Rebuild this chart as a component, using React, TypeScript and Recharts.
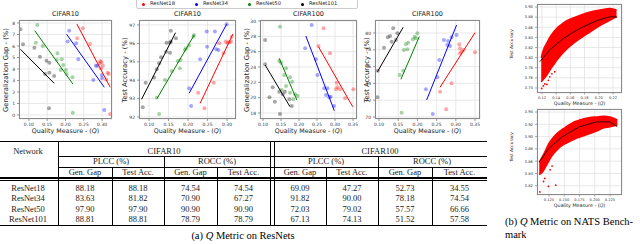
import React from 'react';
import { ScatterChart, Scatter, XAxis, YAxis, CartesianGrid, ComposedChart, Area } from 'recharts';

type Pt = [number, number];

const SERIES = ['ResNet18', 'ResNet34', 'ResNet50', 'ResNet101'];
const COLORS = ['#ff0000', '#0000ff', '#008000', '#000000'];

// CIFAR10 - generalization gap
const c10GapR18: Pt[] = [[0.247, 7.54], [0.232, 6.67], [0.267, 6.17], [0.295, 4.7], [0.298, 4.58], [0.293, 4.49], [0.302, 4.29], [0.297, 4.06], [0.315, 3.68], [0.318, 3.57], [0.311, 3.09], [0.322, 0.09]];
const c10GapR34: Pt[] = [[0.21, 7.33], [0.206, 6.38], [0.229, 6.23], [0.235, 4.84], [0.283, 4.29], [0.287, 4.29], [0.276, 3.04], [0.299, 3.48], [0.3, 3.19], [0.306, 0.43]];
const c10GapR50: Pt[] = [[0.123, 7.83], [0.119, 6.29], [0.138, 6.0], [0.178, 5.36], [0.19, 4.84], [0.176, 4.78], [0.194, 4.35], [0.187, 3.91], [0.201, 3.91], [0.203, 3.57], [0.219, 3.28], [0.22, 0.2]];
const c10GapR101: Pt[] = [[0.077, 7.45], [0.084, 6.15], [0.115, 5.85], [0.13, 5.07], [0.148, 4.72], [0.156, 4.55], [0.156, 3.68], [0.144, 3.57], [0.169, 3.39], [0.155, 0.58]];
const c10GapFits: Pt[][] = [
  [[0.231, 7.91], [0.322, 2.41]],
  [[0.203, 7.02], [0.306, 2.41]],
  [[0.116, 7.33], [0.22, 2.7]],
  [[0.077, 5.71], [0.169, 2.76]],
];

// CIFAR10 - test accuracy
const c10AccR18: Pt[] = [[0.226, 93.32], [0.242, 92.48], [0.266, 93.86], [0.28, 96.01], [0.291, 95.46], [0.297, 96.1], [0.301, 96.02], [0.306, 96.06], [0.312, 96.36], [0.31, 96.1]];
const c10AccR34: Pt[] = [[0.203, 93.56], [0.208, 92.6], [0.231, 95.14], [0.248, 96.64], [0.249, 95.82], [0.269, 96.64], [0.272, 95.68], [0.278, 95.64], [0.299, 97.04]];
const c10AccR50: Pt[] = [[0.126, 92.16], [0.12, 93.05], [0.141, 94.01], [0.158, 94.5], [0.174, 95.04], [0.181, 95.1], [0.179, 94.65], [0.192, 95.64], [0.195, 95.73], [0.203, 95.88], [0.214, 96.36], [0.215, 96.46]];
const c10AccR101: Pt[] = [[0.084, 92.53], [0.0915, 93.86], [0.113, 94.14], [0.12, 94.59], [0.126, 94.92], [0.131, 95.24], [0.144, 95.55], [0.145, 96.04], [0.154, 96.04], [0.156, 96.1], [0.154, 95.49], [0.169, 96.28], [0.156, 96.69]];
const c10AccFits: Pt[][] = [
  [[0.231, 92.74], [0.315, 96.51]],
  [[0.203, 93.29], [0.299, 97.04]],
  [[0.121, 93.02], [0.216, 96.46]],
  [[0.081, 92.96], [0.168, 96.58]],
];

// CIFAR100 - generalization gap
const c100GapR18: Pt[] = [[0.268, 29.04], [0.254, 26.74], [0.286, 25.78], [0.305, 21.95], [0.307, 21.35], [0.303, 21.09], [0.314, 21.09], [0.328, 19.92], [0.351, 21.09]];
const c100GapR34: Pt[] = [[0.235, 29.47], [0.217, 26.43], [0.247, 25.0], [0.251, 22.95], [0.27, 21.22], [0.279, 21.22], [0.275, 20.35], [0.284, 20.05], [0.288, 20.13], [0.297, 18.91]];
const c100GapR50: Pt[] = [[0.147, 29.25], [0.145, 24.78], [0.15, 24.56], [0.164, 23.83], [0.159, 22.95], [0.175, 22.65], [0.164, 21.52], [0.152, 21.0], [0.181, 22.08], [0.175, 20.65], [0.189, 20.44], [0.196, 20.22], [0.184, 19.79]];
const c100GapR101: Pt[] = [[0.106, 27.52], [0.106, 24.35], [0.127, 21.35], [0.118, 20.05], [0.133, 19.47], [0.145, 20.78], [0.155, 20.44], [0.161, 20.78], [0.173, 19.79], [0.18, 18.91], [0.147, 17.87]];
const c100GapFits: Pt[][] = [
  [[0.254, 26.64], [0.349, 18.82]],
  [[0.219, 28.04], [0.298, 18.3]],
  [[0.145, 25.13], [0.194, 19.69]],
  [[0.106, 24.26], [0.175, 18.82]],
];

// CIFAR100 - test accuracy
const c100AccR18: Pt[] = [[0.259, 73.01], [0.275, 70.92], [0.289, 74.01], [0.309, 78.65], [0.311, 78.18], [0.315, 77.77], [0.32, 77.98], [0.311, 77.58], [0.35, 77.7]];
const c100AccR34: Pt[] = [[0.222, 73.3], [0.24, 70.36], [0.252, 74.73], [0.257, 76.79], [0.269, 79.17], [0.28, 79.05], [0.278, 78.57], [0.285, 78.45], [0.289, 79.49], [0.302, 79.76]];
const c100AccR50: Pt[] = [[0.159, 70.51], [0.154, 75.0], [0.163, 75.51], [0.165, 77.98], [0.17, 78.65], [0.176, 78.85], [0.174, 78.06], [0.188, 79.25], [0.193, 79.56], [0.196, 79.37], [0.2, 79.96]];
const c100AccR101: Pt[] = [[0.096, 72.35], [0.097, 75.51], [0.113, 78.25], [0.123, 79.49], [0.129, 79.64], [0.133, 78.97], [0.144, 79.17], [0.137, 80.56], [0.148, 79.96]];
const c100AccFits: Pt[][] = [
  [[0.259, 73.54], [0.35, 80.04]],
  [[0.224, 72.02], [0.302, 80.95]],
  [[0.157, 74.49], [0.205, 79.57]],
  [[0.096, 75.39], [0.163, 80.69]],
];

// NATS bench - dense cloud envelope (low / high), fit curve, sparse points
const natsTopQ = [0.119, 0.122, 0.127, 0.131, 0.136, 0.141, 0.145, 0.155, 0.165, 0.174, 0.188, 0.202, 0.216, 0.225];
const natsTopLow = [0.752, 0.757, 0.766, 0.775, 0.785, 0.795, 0.802, 0.817, 0.829, 0.838, 0.851, 0.864, 0.874, 0.881];
const natsTopHigh = [0.8, 0.815, 0.829, 0.84, 0.85, 0.858, 0.863, 0.873, 0.879, 0.884, 0.89, 0.894, 0.897, 0.894];
const natsTopFit: Pt[] = [[0.117, 0.792], [0.131, 0.815], [0.15, 0.838], [0.1735, 0.858], [0.197, 0.873], [0.216, 0.881], [0.226, 0.88]];
const natsTopSparse: Pt[] = [[0.1196, 0.739], [0.124, 0.748], [0.122, 0.744], [0.129, 0.755], [0.131, 0.762], [0.134, 0.768], [0.127, 0.747], [0.138, 0.772]];

const natsBotQ = [0.109, 0.114, 0.12, 0.125, 0.13, 0.136, 0.147, 0.153, 0.169, 0.175, 0.192, 0.203, 0.214, 0.225, 0.237];
const natsBotLow = [0.838, 0.842, 0.852, 0.861, 0.869, 0.876, 0.886, 0.889, 0.897, 0.899, 0.905, 0.909, 0.914, 0.916, 0.919];
const natsBotHigh = [0.858, 0.867, 0.879, 0.889, 0.896, 0.903, 0.912, 0.916, 0.925, 0.927, 0.931, 0.932, 0.933, 0.932, 0.927];
const natsBotFit: Pt[] = [[0.109, 0.859], [0.125, 0.881], [0.147, 0.9], [0.175, 0.916], [0.203, 0.924], [0.225, 0.924], [0.237, 0.916]];
const natsBotSparse: Pt[] = [[0.11, 0.81], [0.124, 0.819], [0.116, 0.827], [0.118, 0.832], [0.127, 0.846], [0.13, 0.852], [0.136, 0.821]];

// table
const NETWORKS = ['ResNet18', 'ResNet34', 'ResNet50', 'ResNet101'];
const c10Plcc = [[88.18, 88.18], [83.63, 81.82], [97.9, 97.9], [88.81, 88.81]];
const c10Rocc = [[74.54, 74.54], [70.9, 67.27], [90.9, 90.9], [78.79, 78.79]];
const c100Plcc = [[69.09, 47.27], [91.82, 90.0], [72.03, 79.02], [67.13, 74.13]];
const c100Rocc = [[52.73, 34.55], [78.18, 74.54], [57.57, 66.66], [51.52, 57.58]];

const SANS = 'DejaVu Sans, sans-serif';
const SERIF = 'Liberation Serif, Times New Roman, serif';

const toXY = (pts: Pt[]) => pts.map(([x, y]) => ({ x, y }));
const noDot = () => <g />;
const dot = (r: number, color: string, op: number) => (props: any) =>
  <circle cx={props.cx} cy={props.cy} r={r} fill={color} fillOpacity={op} />;

const Txt = ({ x, y, size, family = SANS, anchor = 'middle', rotate, color = '#222', children }: any) => {
  const tx = anchor === 'middle' ? '-50%' : anchor === 'end' ? '-100%' : '0';
  return (
    <div style={{
      position: 'absolute', left: x, top: y, fontSize: size, fontFamily: family, color,
      whiteSpace: 'nowrap', lineHeight: 1,
      transform: `translate(${tx}, -50%)${rotate ? ` rotate(${rotate}deg)` : ''}`,
    }}>{children}</div>
  );
};

const QLabel = () => <>Quality Measure - (<i>Q</i>)</>;

const YW = 12;
const XH = 9;
const PAD = 6;

function Panel({ frame, xDomain, xTicks, yDomain, yTicks, sets, fits, title, yLabel, yLabelX }: any) {
  const [l, t, r, b] = frame;
  const w = r - l;
  const h = b - t;
  return (
    <>
      <div style={{ position: 'absolute', left: l - YW, top: t - PAD }}>
        <ScatterChart width={w + YW + PAD} height={h + XH + PAD} margin={{ top: PAD, right: PAD, left: 0, bottom: 0 }}>
          <CartesianGrid stroke="#e2e2e2" strokeWidth={0.8} />
          <XAxis type="number" dataKey="x" domain={xDomain} ticks={xTicks} allowDataOverflow interval={0}
            height={XH} tickSize={2} axisLine={false} tickLine={{ stroke: '#555', strokeWidth: 0.6 }}
            tick={{ fontSize: 4.5, fill: '#333', fontFamily: SANS }} tickFormatter={(v: number) => v.toFixed(2)} />
          <YAxis type="number" dataKey="y" domain={yDomain} ticks={yTicks} allowDataOverflow interval={0}
            width={YW} tickSize={2} axisLine={false} tickLine={{ stroke: '#555', strokeWidth: 0.6 }}
            tick={{ fontSize: 4.5, fill: '#333', fontFamily: SANS }} />
          {sets.map((pts: Pt[], i: number) => (
            <Scatter key={'p' + i} name={SERIES[i]} data={toXY(pts)} shape={dot(2, COLORS[i], 0.35)} isAnimationActive={false} />
          ))}
          {fits.map((pts: Pt[], i: number) => (
            <Scatter key={'f' + i} data={toXY(pts)} line={{ stroke: COLORS[i], strokeWidth: 1 }} shape={noDot} isAnimationActive={false} />
          ))}
        </ScatterChart>
      </div>
      <div style={{ position: 'absolute', left: l, top: t, width: w, height: h, border: '0.8px solid #8a8a8a', boxSizing: 'border-box' }} />
      <Txt x={(l + r) / 2} y={14} size={6.5}>{title}</Txt>
      <Txt x={(l + r) / 2} y={131} size={6.3}><QLabel /></Txt>
      <Txt x={yLabelX} y={(t + b) / 2} size={6.8} rotate={-90}>{yLabel}</Txt>
    </>
  );
}

function NatsPanel({ frame, xDomain, xTicks, xDigits, yDomain, yTicks, q, low, high, fit, sparse }: any) {
  const [l, t, r, b] = frame;
  const w = r - l;
  const h = b - t;
  const band = q.map((x: number, i: number) => ({ x, band: [low[i], high[i]] }));
  return (
    <>
      <div style={{ position: 'absolute', left: l - YW, top: t - PAD }}>
        <ComposedChart width={w + YW + PAD} height={h + XH + PAD} data={band} margin={{ top: PAD, right: PAD, left: 0, bottom: 0 }}>
          <CartesianGrid stroke="#e2e2e2" strokeWidth={0.8} />
          <XAxis type="number" dataKey="x" domain={xDomain} ticks={xTicks} allowDataOverflow interval={0}
            height={XH} tickSize={1.5} axisLine={false} tickLine={{ stroke: '#555', strokeWidth: 0.5 }}
            tick={{ fontSize: 3.6, fill: '#333', fontFamily: SANS }} tickFormatter={(v: number) => v.toFixed(xDigits)} />
          <YAxis type="number" dataKey="y" domain={yDomain} ticks={yTicks} allowDataOverflow interval={0}
            width={YW} tickSize={2} axisLine={false} tickLine={{ stroke: '#555', strokeWidth: 0.5 }}
            tick={{ fontSize: 3.8, fill: '#333', fontFamily: SANS }} tickFormatter={(v: number) => v.toFixed(2)} />
          <Area type="monotone" dataKey="band" stroke="#ff0000" strokeWidth={1.5} fill="#ff0000" fillOpacity={1} isAnimationActive={false} />
          <Scatter data={toXY(sparse)} shape={dot(0.9, '#ff0000', 1)} isAnimationActive={false} />
          <Scatter data={toXY(fit)} line={{ stroke: '#000', strokeWidth: 0.8 }} shape={noDot} isAnimationActive={false} />
        </ComposedChart>
      </div>
      <div style={{ position: 'absolute', left: l, top: t, width: w, height: h, border: '0.8px solid #8a8a8a', boxSizing: 'border-box' }} />
      <Txt x={(l + r) / 2} y={b + 10.5} size={4.8}><QLabel /></Txt>
      <Txt x={512} y={(t + b) / 2 - 5} size={4.3} rotate={-90}>Test Accuracy</Txt>
    </>
  );
}

// table column layout
const COLS = [58, 112, 164, 270, 274, 326, 378, 432, 487];
const colCenters = [85, 138, 190.5, 243.5, 300, 352, 405, 459.5];
const ROW_Y = [187.5, 198, 208.5, 219];
const TSIZE = 8.5;

const HLine = ({ x1, x2, y, th = 0.8 }: any) => (
  <div style={{ position: 'absolute', left: x1, top: y, width: x2 - x1, height: th, background: '#000' }} />
);
const VLine = ({ x, y1, y2 }: any) => (
  <div style={{ position: 'absolute', left: x, top: y1, width: 0.7, height: y2 - y1, background: '#000' }} />
);

function Table() {
  const rows = NETWORKS.map((n, i) => [...c10Plcc[i], ...c10Rocc[i], ...c100Plcc[i], ...c100Rocc[i]]);
  const top = 141;
  const bottom = 224.5;
  return (
    <>
      <HLine x1={0} x2={487} y={top} th={1.1} />
      <HLine x1={58} x2={487} y={156} />
      <HLine x1={58} x2={487} y={166.5} />
      <HLine x1={0} x2={487} y={177} th={2.2} />
      <HLine x1={0} x2={487} y={180.2} th={0.7} />
      <HLine x1={0} x2={487} y={bottom} th={1} />
      <VLine x={COLS[0]} y1={top} y2={bottom} />
      <VLine x={COLS[3]} y1={top} y2={bottom} />
      <VLine x={COLS[4]} y1={top} y2={bottom} />
      <VLine x={COLS[2]} y1={156} y2={bottom} />
      <VLine x={COLS[6]} y1={156} y2={bottom} />
      {[COLS[1], COLS[5], COLS[7]].concat([217]).map((x) => <VLine key={x} x={x} y1={166.5} y2={bottom} />)}
      <Txt x={28} y={150.5} size={TSIZE} family={SERIF}>Network</Txt>
      <Txt x={164} y={150.5} size={TSIZE} family={SERIF}>CIFAR10</Txt>
      <Txt x={380} y={150.5} size={TSIZE} family={SERIF}>CIFAR100</Txt>
      {[111, 217, 326, 432].map((x, i) => (
        <Txt key={x} x={x} y={161.3} size={TSIZE} family={SERIF}>{i % 2 === 0 ? 'PLCC (%)' : 'ROCC (%)'}</Txt>
      ))}
      {colCenters.map((x, i) => (
        <Txt key={x} x={x} y={171.8} size={TSIZE} family={SERIF}>{i % 2 === 0 ? 'Gen. Gap' : 'Test Acc.'}</Txt>
      ))}
      {rows.map((vals, r) => (
        <React.Fragment key={r}>
          <Txt x={28} y={ROW_Y[r]} size={TSIZE} family={SERIF}>{NETWORKS[r]}</Txt>
          {vals.map((v, c) => (
            <Txt key={c} x={colCenters[c]} y={ROW_Y[r]} size={TSIZE} family={SERIF}>{v.toFixed(2)}</Txt>
          ))}
        </React.Fragment>
      ))}
      <Txt x={243} y={236} size={10.5} family={SERIF} color="#000">(a) <i>Q</i> Metric on ResNets</Txt>
    </>
  );
}

const LEGEND_X = [143, 196, 249, 302];

export default function App() {
  return (
    <div style={{ position: 'absolute', left: 0, top: 0, width: 640, height: 244, background: '#fff', overflow: 'hidden' }}>
      <Panel frame={[19, 20, 112, 119]} xDomain={[0.073, 0.327]} xTicks={[0.1, 0.15, 0.2, 0.25, 0.3]}
        yDomain={[-0.35, 8.26]} yTicks={[0, 1, 2, 3, 4, 5, 6, 7, 8]}
        sets={[c10GapR18, c10GapR34, c10GapR50, c10GapR101]} fits={c10GapFits}
        title="CIFAR10" yLabel="Generalization Gap - (%)" yLabelX={6} />
      <Panel frame={[139, 20, 236, 119]} xDomain={[0.0744, 0.323]} xTicks={[0.1, 0.15, 0.2, 0.25, 0.3]}
        yDomain={[91.89, 97.27]} yTicks={[92, 93, 94, 95, 96, 97]}
        sets={[c10AccR18, c10AccR34, c10AccR50, c10AccR101]} fits={c10AccFits}
        title="CIFAR10" yLabel="Test Accuracy - (%)" yLabelX={125} />
      <Panel frame={[260, 20, 357, 119]} xDomain={[0.0917, 0.361]} xTicks={[0.1, 0.15, 0.2, 0.25, 0.3, 0.35]}
        yDomain={[17.22, 30.13]} yTicks={[18, 20, 22, 24, 26, 28, 30]}
        sets={[c100GapR18, c100GapR34, c100GapR50, c100GapR101]} fits={c100GapFits}
        title="CIFAR100" yLabel="Generalization Gap - (%)" yLabelX={247} />
      <Panel frame={[375, 20, 480, 119]} xDomain={[0.0896, 0.363]} xTicks={[0.1, 0.15, 0.2, 0.25, 0.3, 0.35]}
        yDomain={[69.76, 81.55]} yTicks={[70, 72, 74, 76, 78, 80]}
        sets={[c100AccR18, c100AccR34, c100AccR50, c100AccR101]} fits={c100AccFits}
        title="CIFAR100" yLabel="Test Accuracy - (%)" yLabelX={367} />

      {/* legend */}
      <div style={{ position: 'absolute', left: 136, top: -3, width: 222, height: 12, border: '0.8px solid #ccc', borderRadius: 2, background: '#fff', boxSizing: 'border-box' }} />
      {SERIES.map((s, i) => (
        <React.Fragment key={s}>
          <div style={{ position: 'absolute', left: LEGEND_X[i] - 1.5, top: 2.5, width: 3, height: 3, borderRadius: '50%', background: COLORS[i] }} />
          <Txt x={LEGEND_X[i] + 7} y={4} size={5.2} anchor="start">{s}</Txt>
        </React.Fragment>
      ))}

      <NatsPanel frame={[537, 4, 622, 93]} xDomain={[0.113, 0.2327]} xTicks={[0.12, 0.14, 0.16, 0.18, 0.2, 0.22]} xDigits={2}
        yDomain={[0.73, 0.906]} yTicks={[0.74, 0.76, 0.78, 0.8, 0.82, 0.84, 0.86, 0.88, 0.9]}
        q={natsTopQ} low={natsTopLow} high={natsTopHigh} fit={natsTopFit} sparse={natsTopSparse} />
      <NatsPanel frame={[537, 109, 622, 195]} xDomain={[0.1053, 0.2447]} xTicks={[0.125, 0.15, 0.175, 0.2, 0.225]} xDigits={3}
        yDomain={[0.805, 0.9449]} yTicks={[0.82, 0.84, 0.86, 0.88, 0.9, 0.92, 0.94]}
        q={natsBotQ} low={natsBotLow} high={natsBotHigh} fit={natsBotFit} sparse={natsBotSparse} />

      <Table />
      <Txt x={505} y={222} size={10.5} family={SERIF} anchor="start" color="#000">(b) <i>Q</i> Metric on NATS Bench-</Txt>
      <Txt x={505} y={235} size={10.5} family={SERIF} anchor="start" color="#000">mark</Txt>
    </div>
  );
}
